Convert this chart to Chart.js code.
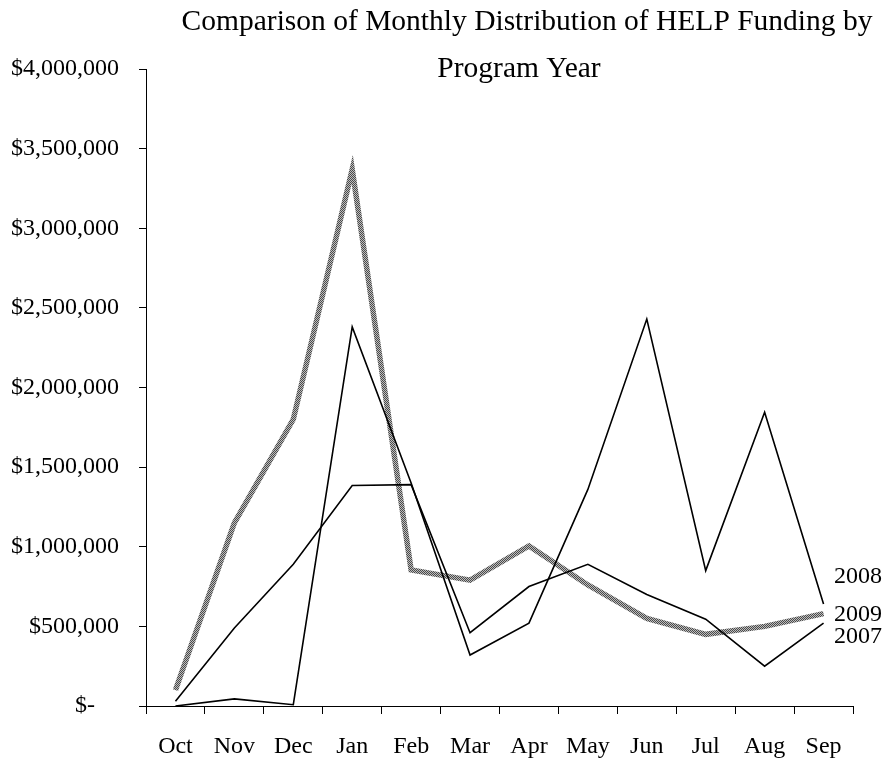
<!DOCTYPE html>
<html>
<head>
<meta charset="utf-8">
<script src="https://cdn.jsdelivr.net/npm/chart.js@4.4.1/dist/chart.umd.min.js"></script>
<style>
  html, body { margin: 0; padding: 0; background: #fff; }
  #wrap { width: 885px; height: 759px; }
</style>
</head>
<body>
<div id="wrap"><canvas id="helpChart" width="885" height="759"></canvas></div>
<script>
// monthly HELP distributions per program year
const months = ['Oct', 'Nov', 'Dec', 'Jan', 'Feb', 'Mar', 'Apr', 'May', 'Jun', 'Jul', 'Aug', 'Sep'];
const fy2007 = [30000, 490000, 890000, 1385000, 1390000, 460000, 750000, 890000, 700000, 545000, 250000, 520000];
const fy2008 = [0, 45000, 8000, 2380000, 1400000, 320000, 520000, 1360000, 2430000, 850000, 1845000, 640000];
const fy2009 = [100000, 1150000, 1800000, 3370000, 855000, 790000, 1005000, 760000, 550000, 450000, 500000, 580000];
const yTicks = [0, 500000, 1000000, 1500000, 2000000, 2500000, 3000000, 3500000, 4000000];
const titleLines = ['Comparison of Monthly Distribution of HELP Funding by', 'Program Year'];

const serif = '"Liberation Serif", "Times New Roman", serif';

function money(v) {
    if (v === 0) return '$-    ';
    return '$' + v.toLocaleString('en-US');
}

// dithered grey like the scanned original
function ditherPattern() {
    const c = document.createElement('canvas');
    c.width = 2; c.height = 2;
    const g = c.getContext('2d');
    g.fillStyle = '#bdbdbd'; g.fillRect(0, 0, 2, 2);
    g.fillStyle = '#4a4a4a'; g.fillRect(0, 0, 1, 1); g.fillRect(1, 1, 1, 1);
    return g.createPattern(c, 'repeat');
}

// title + year labels at line ends, drawn on top without taking layout space
const annotate = {
    id: 'annotate',
    afterDraw(chart) {
        const ctx = chart.ctx;
        ctx.save();
        ctx.fillStyle = '#000';
        ctx.font = '29.5px ' + serif;
        ctx.textAlign = 'center';
        ctx.textBaseline = 'alphabetic';
        ctx.fillText(titleLines[0], 527, 30);
        ctx.fillText(titleLines[1], 519, 77);

        ctx.font = '24px ' + serif;
        ctx.textAlign = 'left';
        ctx.textBaseline = 'middle';
        const shifts = [14, -27, 1.5];
        chart.data.datasets.forEach((ds, i) => {
            const meta = chart.getDatasetMeta(i);
            const last = meta.data[meta.data.length - 1];
            ctx.fillText(ds.label, last.x + 10.5, last.y + shifts[i]);
        });
        ctx.restore();
    }
};

new Chart(document.getElementById('helpChart'), {
    type: 'line',
    data: {
        labels: months,
        datasets: [
            { label: '2007', data: fy2007, borderColor: '#000', borderWidth: 1.6 },
            { label: '2008', data: fy2008, borderColor: '#000', borderWidth: 1.6 },
            { label: '2009', data: fy2009, borderColor: ditherPattern(), borderWidth: 5.5 }
        ]
    },
    options: {
        responsive: false,
        animation: false,
        layout: { padding: { top: 69, right: 32, left: 0, bottom: 0 } },
        elements: { point: { radius: 0 }, line: { tension: 0 } },
        plugins: { legend: { display: false }, title: { display: false }, tooltip: { enabled: false } },
        scales: {
            x: {
                offset: true,
                afterFit(scale) { scale.height = 53; },
                grid: { offset: true, drawOnChartArea: false, tickLength: 8, color: '#000' },
                border: { color: '#000', width: 1 },
                ticks: { color: '#000', font: { family: serif, size: 24 }, padding: 18, maxRotation: 0 }
            },
            y: {
                min: 0,
                max: 4000000,
                afterBuildTicks(axis) { axis.ticks = yTicks.map(v => ({ value: v })); },
                afterFit(scale) { scale.width = 146; },
                grid: { drawOnChartArea: false, tickLength: 7, color: '#000' },
                border: { color: '#000', width: 1 },
                ticks: { color: '#000', font: { family: serif, size: 24 }, padding: 20, callback: money }
            }
        }
    },
    plugins: [annotate]
});
</script>
</body>
</html>
